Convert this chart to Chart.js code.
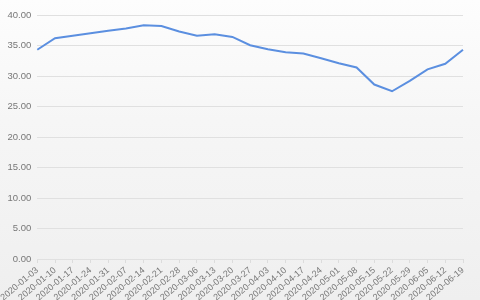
<!DOCTYPE html>
<html>
<head>
<meta charset="utf-8">
<script src="https://cdn.jsdelivr.net/npm/chart.js@4"></script>
<style>
  html, body { margin: 0; padding: 0; }
  body { width: 480px; height: 300px; background: linear-gradient(to bottom, #fdfdfd 0%, #f6f6f6 40%, #efefef 100%); overflow: hidden; }
  #wrap { position: absolute; left: 0; top: 0; width: 480px; height: 300px; }
</style>
</head>
<body>
<div id="wrap"><canvas id="c" width="480" height="300"></canvas></div>
<script>
const dates = ["2020-01-03","2020-01-10","2020-01-17","2020-01-24","2020-01-31","2020-02-07","2020-02-14","2020-02-21","2020-02-28","2020-03-06","2020-03-13","2020-03-20","2020-03-27","2020-04-03","2020-04-10","2020-04-17","2020-04-24","2020-05-01","2020-05-08","2020-05-15","2020-05-22","2020-05-29","2020-06-05","2020-06-12","2020-06-19"];
const values = [34.3,36.2,36.6,37.0,37.4,37.8,38.3,38.2,37.3,36.6,36.85,36.4,35.05,34.4,33.9,33.7,32.9,32.1,31.4,28.6,27.5,29.2,31.1,32.0,34.3];
const yMin = 0, yMax = 40, yStep = 5;

new Chart(document.getElementById('c'), {
  type: 'line',
  data: {
    labels: dates,
    datasets: [{
      data: values,
      borderColor: '#5b8fe0',
      borderWidth: 2,
      pointRadius: 0,
      tension: 0,
      fill: false
    }]
  },
  options: {
    responsive: false,
    animation: false,
    layout: { padding: { left: 0, right: 17, top: 15, bottom: 0 } },
    plugins: { legend: { display: false }, tooltip: { enabled: false } },
    scales: {
      x: {
        offset: false,
        grid: { display: true, drawOnChartArea: false, drawTicks: true, tickLength: 4, color: '#dcdcdc' },
        border: { display: false },
        ticks: {
          autoSkip: false, minRotation: 40, maxRotation: 40, padding: 2,
          color: '#777', font: { family: 'Liberation Sans', size: 9 }
        },
        afterFit: s => { s.height = 41; }
      },
      y: {
        min: yMin, max: yMax,
        grid: { color: '#e0e0e0', lineWidth: 1, drawTicks: false },
        border: { display: false },
        ticks: {
          stepSize: yStep, padding: 6,
          color: '#777', font: { family: 'Liberation Sans', size: 9.5 },
          callback: v => Number(v).toFixed(2)
        },
        afterFit: s => { s.width = 36; }
      }
    }
  }
});
</script>
</body>
</html>
